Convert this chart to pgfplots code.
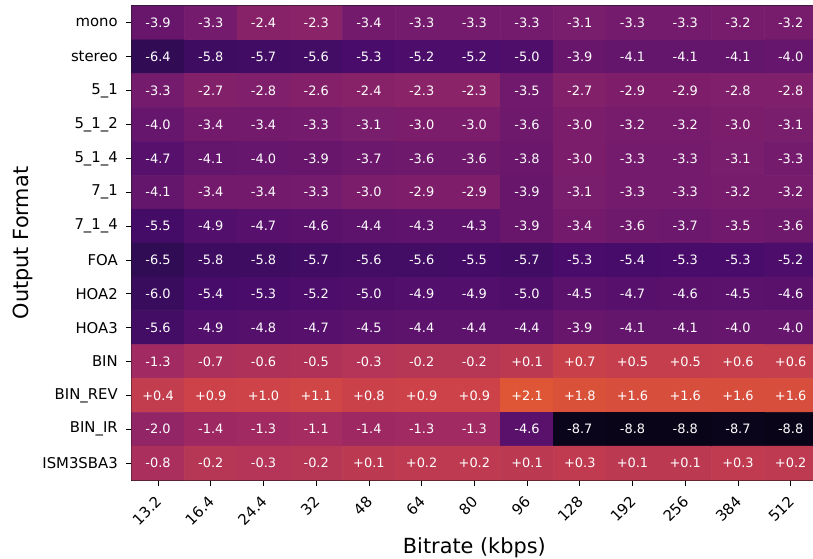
\documentclass[border=0pt]{standalone}
\usepackage{fontspec}
\setmainfont{DejaVu Sans}
\usepackage{pgfplots}
\pgfplotsset{compat=1.18}
\usepackage{pgfplotstable}

\pgfplotstableread{
x y v
0 0 -3.9
1 0 -3.3
2 0 -2.4
3 0 -2.3
4 0 -3.4
5 0 -3.3
6 0 -3.3
7 0 -3.3
8 0 -3.1
9 0 -3.3
10 0 -3.3
11 0 -3.2
12 0 -3.2
0 1 -6.4
1 1 -5.8
2 1 -5.7
3 1 -5.6
4 1 -5.3
5 1 -5.2
6 1 -5.2
7 1 -5.0
8 1 -3.9
9 1 -4.1
10 1 -4.1
11 1 -4.1
12 1 -4.0
0 2 -3.3
1 2 -2.7
2 2 -2.8
3 2 -2.6
4 2 -2.4
5 2 -2.3
6 2 -2.3
7 2 -3.5
8 2 -2.7
9 2 -2.9
10 2 -2.9
11 2 -2.8
12 2 -2.8
0 3 -4.0
1 3 -3.4
2 3 -3.4
3 3 -3.3
4 3 -3.1
5 3 -3.0
6 3 -3.0
7 3 -3.6
8 3 -3.0
9 3 -3.2
10 3 -3.2
11 3 -3.0
12 3 -3.1
0 4 -4.7
1 4 -4.1
2 4 -4.0
3 4 -3.9
4 4 -3.7
5 4 -3.6
6 4 -3.6
7 4 -3.8
8 4 -3.0
9 4 -3.3
10 4 -3.3
11 4 -3.1
12 4 -3.3
0 5 -4.1
1 5 -3.4
2 5 -3.4
3 5 -3.3
4 5 -3.0
5 5 -2.9
6 5 -2.9
7 5 -3.9
8 5 -3.1
9 5 -3.3
10 5 -3.3
11 5 -3.2
12 5 -3.2
0 6 -5.5
1 6 -4.9
2 6 -4.7
3 6 -4.6
4 6 -4.4
5 6 -4.3
6 6 -4.3
7 6 -3.9
8 6 -3.4
9 6 -3.6
10 6 -3.7
11 6 -3.5
12 6 -3.6
0 7 -6.5
1 7 -5.8
2 7 -5.8
3 7 -5.7
4 7 -5.6
5 7 -5.6
6 7 -5.5
7 7 -5.7
8 7 -5.3
9 7 -5.4
10 7 -5.3
11 7 -5.3
12 7 -5.2
0 8 -6.0
1 8 -5.4
2 8 -5.3
3 8 -5.2
4 8 -5.0
5 8 -4.9
6 8 -4.9
7 8 -5.0
8 8 -4.5
9 8 -4.7
10 8 -4.6
11 8 -4.5
12 8 -4.6
0 9 -5.6
1 9 -4.9
2 9 -4.8
3 9 -4.7
4 9 -4.5
5 9 -4.4
6 9 -4.4
7 9 -4.4
8 9 -3.9
9 9 -4.1
10 9 -4.1
11 9 -4.0
12 9 -4.0
0 10 -1.3
1 10 -0.7
2 10 -0.6
3 10 -0.5
4 10 -0.3
5 10 -0.2
6 10 -0.2
7 10 0.1
8 10 0.7
9 10 0.5
10 10 0.5
11 10 0.6
12 10 0.6
0 11 0.4
1 11 0.9
2 11 1.0
3 11 1.1
4 11 0.8
5 11 0.9
6 11 0.9
7 11 2.1
8 11 1.8
9 11 1.6
10 11 1.6
11 11 1.6
12 11 1.6
0 12 -2.0
1 12 -1.4
2 12 -1.3
3 12 -1.1
4 12 -1.4
5 12 -1.3
6 12 -1.3
7 12 -4.6
8 12 -8.7
9 12 -8.8
10 12 -8.8
11 12 -8.7
12 12 -8.8
0 13 -0.8
1 13 -0.2
2 13 -0.3
3 13 -0.2
4 13 0.1
5 13 0.2
6 13 0.2
7 13 0.1
8 13 0.3
9 13 0.1
10 13 0.1
11 13 0.3
12 13 0.2
}\data

\begin{document}
\begin{tikzpicture}
\begin{axis}[
  at={(0,0)}, anchor=south west,
  scale only axis, width=493.4pt, height=341.3pt,
  xmin=-0.5, xmax=12.5, ymin=-0.5, ymax=13.5, y dir=reverse,
  colormap={inferno}{rgb255=(0,0,4) rgb255=(27,12,65) rgb255=(74,12,107) rgb255=(120,28,109) rgb255=(165,44,96) rgb255=(207,68,70) rgb255=(237,105,37) rgb255=(251,155,6) rgb255=(247,209,61) rgb255=(252,255,164)},
  point meta min=-9.5, point meta max=9.5,
  xtick={0,...,12},
  xticklabels={13.2,16.4,24.4,32,48,64,80,96,128,192,256,384,512},
  ytick={0,...,13},
  yticklabels={mono,stereo,5\_1,5\_1\_2,5\_1\_4,7\_1,7\_1\_4,FOA,HOA2,HOA3,BIN,BIN\_REV,BIN\_IR,ISM3SBA3},
  xtick pos=bottom, ytick pos=left,
  tick align=outside, major tick length=4pt,
  tick style={black, line width=0.6pt},
  axis line style={line width=0.7pt, black!90},
  xticklabel style={xshift=-2.5pt, yshift=-5pt, rotate=45, anchor=north east, inner sep=1pt, font=\fontsize{10.7}{12}\selectfont},
  yticklabel style={xshift=-2.5pt, font=\fontsize{10.7}{12}\selectfont},
  xlabel={Bitrate (kbps)}, ylabel={Output Format},
  label style={font=\fontsize{15}{18}\selectfont},
  xlabel style={at={(axis description cs:0.5,-0.154)}, anchor=base},
  ylabel style={at={(axis description cs:-0.159,0.5)}, anchor=center},
]
\addplot[matrix plot*, mesh/cols=13, point meta=explicit] table[x=x, y=y, meta=v]{\data};
\addplot[draw=none, no markers, point meta=explicit,
  nodes near coords,
  every node near coord/.append style={anchor=center, text=white, font=\fontsize{9.3}{11}\selectfont,
    /pgf/number format/.cd, fixed, fixed zerofill, precision=1, print sign, assume math mode=true}]
  table[x=x, y=y, meta=v]{\data};
\end{axis}
\pgfresetboundingbox
\useasboundingbox (-94.8pt,-56.2pt) rectangle (490.5pt,345.6pt);
\end{tikzpicture}
\end{document}
